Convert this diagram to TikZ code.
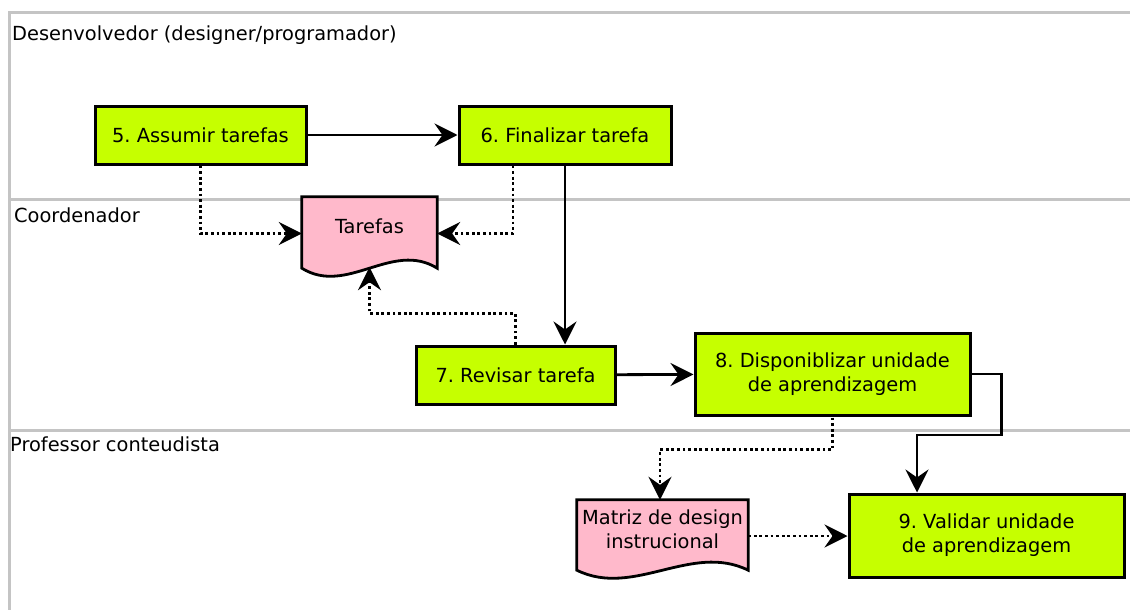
\documentclass[tikz,border=0pt]{standalone}
\usepackage{fontspec}
\setmainfont{DejaVu Sans}
\usetikzlibrary{arrows.meta,calc}
\definecolor{boxgreen}{RGB}{198,255,0}
\definecolor{docpink}{RGB}{255,185,203}
\definecolor{lanegray}{RGB}{196,196,196}
\newcommand{\docshape}[2]{%
  \draw[docline] (#1.north west) -- (#1.north east) -- ([yshift=8pt]#1.south east)
    .. controls ([xshift=-#2/3, yshift=36pt]#1.south east) and ([xshift=#2/3, yshift=-20pt]#1.south west)
    .. ([yshift=8pt]#1.south west) -- cycle;}
\frenchspacing
\begin{document}
\begin{tikzpicture}[x=1pt,y=-1pt,
  font=\fontsize{19.4}{24}\selectfont,
  task/.style={draw=black, line width=3pt, fill=boxgreen, align=center, inner sep=0pt},
  docbox/.style={align=center, inner sep=0pt},
  docline/.style={draw=black, line width=2.8pt, fill=docpink, line join=miter},
  lane/.style={draw=lanegray, line width=3pt},
  lanelabel/.style={anchor=west, inner sep=0pt},
  tip/.style={-{Stealth[length=23pt,width=23pt,inset=8pt]}},
  solidarrow/.style={tip, line width=2.8pt},
  dotarrow/.style={tip, line width=2.8pt, dash pattern=on 2.8pt off 2.8pt}]
\useasboundingbox (0,0) rectangle (1130,610);
% lanes
\draw[lane] (1130,13) -- (9,13) -- (9,610);
\draw[lane] (9,199) -- (1130,199);
\draw[lane] (9,430) -- (1130,430);
\node[lanelabel] (l1) at (12,35) {Desenvolvedor (designer/programador)};
\node[lanelabel] (l2) at (14,215) {Coordenador};
\node[lanelabel] (l3) at (10,444) {Professor conteudista};
% tasks
\node[task, minimum width=211, minimum height=58] (n5) at (200.5,135) {5. Assumir tarefas};
\node[task, minimum width=212, minimum height=58] (n6) at (565,135) {6. Finalizar tarefa};
\node[task, minimum width=199, minimum height=58] (n7) at (515.5,375) {7. Revisar tarefa};
\node[task, minimum width=275, minimum height=82] (n8) at (832.5,374) {8. Disponiblizar unidade\\de aprendizagem};
\node[task, minimum width=275, minimum height=83] (n9) at (986.5,535.5) {9. Validar unidade\\de aprendizagem};
% documents
\node[docbox, minimum width=135, minimum height=79] (tarefas) at (369.5,236.5) {};
\docshape{tarefas}{135pt}
\node[docbox] (tarefasT) at (369.5,226) {Tarefas};
\node[docbox, minimum width=171, minimum height=78] (matriz) at (662.5,539) {};
\docshape{matriz}{171pt}
\node[docbox] (matrizT) at (662.5,529) {Matriz de design\\instrucional};
\coordinate (mx) at ([yshift=3pt]matriz.east);
% connectors
\draw[solidarrow] (n5) -- (n6);
\draw[dotarrow] (n5.south) |- ([yshift=3pt]tarefas.west);
\draw[dotarrow] ([xshift=-52pt]n6.south) |- ([yshift=3pt]tarefas.east);
\draw[solidarrow] (n6.south) -- (n6.south |- n7.north);
\draw[dotarrow] (n7.north) -- ++(0,-31) -| ([yshift=9pt]tarefas.south);
\draw[solidarrow] (n7) -- (n8);
\draw[solidarrow] (n8.east) -- ++(30,0) -- ++(0,61) -| ([xshift=-69.5pt]n9.north);
\draw[dotarrow] ([yshift=-1pt]n8.south) -- ++(0,32) -| ([xshift=-2.5pt]matriz.north);
\draw[dotarrow] (mx) -- (n9.west |- mx);
\end{tikzpicture}
\end{document}
